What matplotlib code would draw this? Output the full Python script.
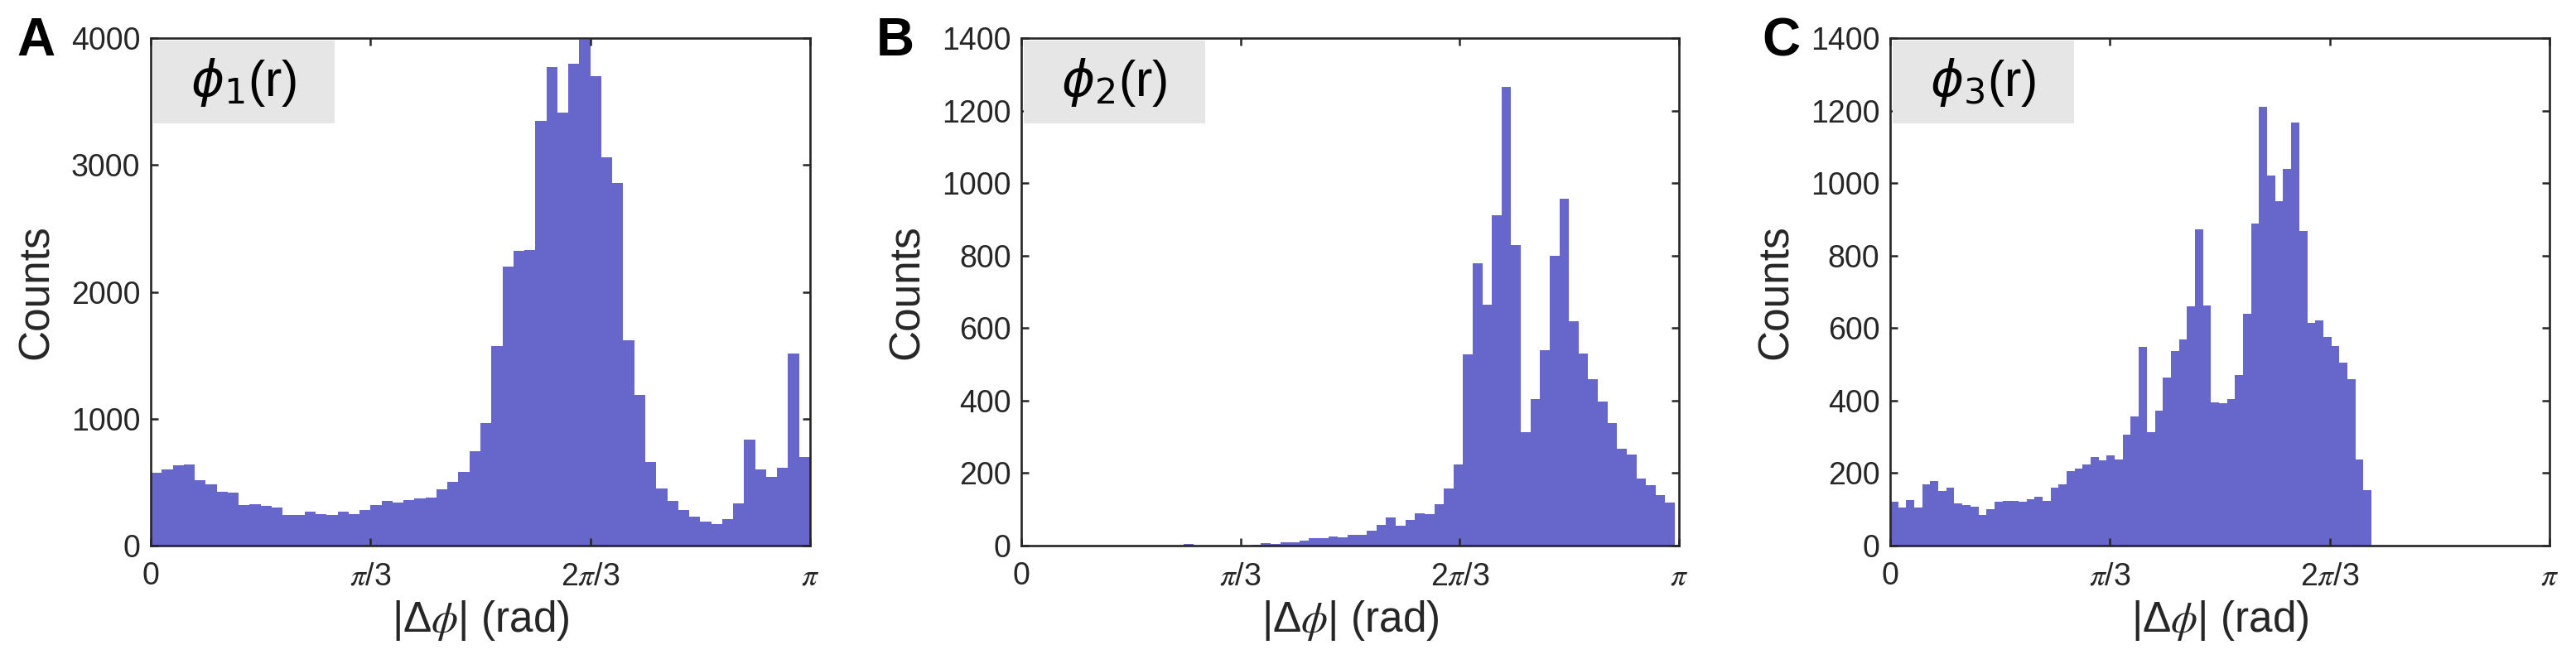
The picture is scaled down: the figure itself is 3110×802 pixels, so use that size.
import numpy as np
import matplotlib
matplotlib.use("Agg")
import matplotlib.pyplot as plt
from matplotlib.patches import Rectangle

plt.rcParams['font.family'] = ['Liberation Sans', 'DejaVu Sans']

# ---------------- data ----------------
panel_letters = ["A", "B", "C"]
panel_titles = [r"$\phi_1$(r)", r"$\phi_2$(r)", r"$\phi_3$(r)"]
ylims = [4000, 1400, 1400]
yticks_A = [0, 1000, 2000, 3000, 4000]
yticks_BC = [0, 200, 400, 600, 800, 1000, 1200, 1400]
xtick_vals = [0, np.pi / 3, 2 * np.pi / 3, np.pi]
xtick_labels = ["0", r"$\pi$/3", r"2$\pi$/3", r"$\pi$"]

# bin range (rad) of each histogram, 60 bins each
range_A = (0.0, np.pi)
range_B = (0.363, 3.122)
range_C = (0.0, 2.293)

counts_A = [572, 600, 632, 641, 518, 485, 426, 415, 318, 324,
            310, 297, 239, 243, 270, 251, 243, 269, 251, 280,
            322, 350, 338, 360, 371, 381, 445, 503, 579, 745,
            968, 1570, 2200, 2322, 2332, 3345, 3770, 3410, 3795, 3990,
            3700, 3058, 2855, 1620, 1185, 660, 448, 352, 278, 227,
            186, 170, 207, 334, 838, 601, 540, 613, 1513, 697]

counts_B = [0, 0, 0, 0, 0, 0, 0, 0, 0, 4,
            0, 0, 0, 0, 0, 0, 3, 6, 4, 10,
            8, 13, 21, 21, 24, 22, 29, 30, 41, 56,
            77, 55, 71, 88, 86, 114, 158, 223, 527, 779,
            665, 912, 1265, 828, 314, 405, 540, 799, 957, 618,
            529, 458, 397, 337, 268, 251, 184, 167, 140, 118]

counts_C = [122, 105, 126, 105, 170, 177, 150, 161, 116, 113,
            108, 85, 100, 121, 124, 124, 121, 128, 135, 124,
            161, 168, 205, 212, 224, 245, 235, 249, 237, 307,
            356, 547, 314, 373, 463, 537, 568, 659, 873, 662,
            395, 393, 405, 470, 640, 888, 1211, 1020, 950, 1040,
            1168, 867, 615, 621, 575, 551, 505, 460, 237, 153]

all_counts = [counts_A, counts_B, counts_C]
all_ranges = [range_A, range_B, range_C]
all_yticks = [yticks_A, yticks_BC, yticks_BC]

# ---------------- style ----------------
W, H = 3110, 802
bar_color = "#6767CB"
axis_color = "#262626"
box_color = "#E6E6E6"

fig = plt.figure(figsize=(W / 100, H / 100), dpi=100)

ax_left_px = [182, 1233, 2282]
ax_width_px = [796, 794, 796]
ax_top_px, ax_bot_px = 46, 659
letter_x_px = [20, 1058, 2127]

for i in range(3):
    l = ax_left_px[i] / W
    w = ax_width_px[i] / W
    b = (H - ax_bot_px) / H
    h = (ax_bot_px - ax_top_px) / H
    ax = fig.add_axes([l, b, w, h])

    counts = np.array(all_counts[i], dtype=float)
    lo, hi = all_ranges[i]
    edges = np.linspace(lo, hi, len(counts) + 1)
    ax.stairs(counts, edges, fill=True, color=bar_color, linewidth=0)

    ax.set_xlim(0, np.pi)
    ax.set_ylim(0, ylims[i])
    ax.set_xticks(xtick_vals)
    ax.set_xticklabels(xtick_labels)
    ax.set_yticks(all_yticks[i])
    ax.set_yticklabels([str(v) for v in all_yticks[i]])
    for lab in ax.get_xticklabels():
        lab.set_math_fontfamily('stix')

    ax.tick_params(axis='both', which='both', direction='in', length=6.5,
                   width=1.8, color=axis_color, labelcolor=axis_color,
                   labelsize=27, top=True, right=True)
    ax.tick_params(axis='x', pad=14)
    ax.tick_params(axis='y', pad=9)
    for sp in ax.spines.values():
        sp.set_linewidth(1.9)
        sp.set_color(axis_color)
        sp.set_zorder(5)

    ax.set_ylabel("Counts", fontsize=37, color=axis_color, labelpad=12)
    ax.set_xlabel(r"|Δ$\phi$| (rad)", fontsize=37, color=axis_color,
                  labelpad=6, math_fontfamily='stix')

    # grey title box
    ax.add_patch(Rectangle((0.004, 0.832), 0.275, 0.163,
                           transform=ax.transAxes, facecolor=box_color,
                           edgecolor='none', zorder=3))
    ax.text(0.1415, 0.912, panel_titles[i], transform=ax.transAxes,
            ha='center', va='center', fontsize=44, color='black',
            math_fontfamily='dejavusans', zorder=4)

    fig.text(letter_x_px[i] / W, 1 - 20 / H, panel_letters[i],
             fontsize=46, fontweight='bold', color='black',
             ha='left', va='top')

fig.savefig("out.png", dpi=100, facecolor='white')
